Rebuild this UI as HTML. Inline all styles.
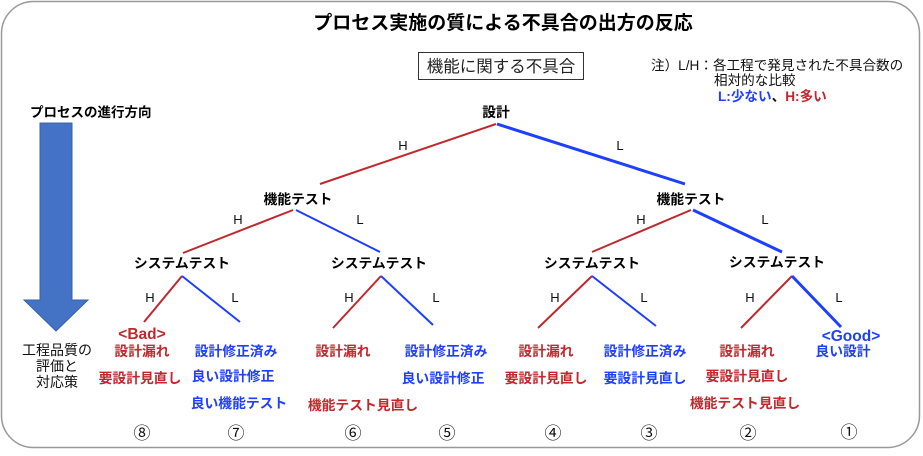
<!DOCTYPE html>
<html><head><meta charset="utf-8"><style>
html,body{margin:0;padding:0;background:#fff;}
svg{display:block;}
text{font-family:"Liberation Sans","Noto Sans CJK JP",sans-serif;}
.b{font-weight:bold;}
.r{fill:#c0282d;font-weight:bold;font-size:13.8px;}
.u{fill:#1f3fff;font-weight:bold;font-size:13.8px;}
.hl{font-size:13px;fill:#111;}
.n{font-weight:bold;font-size:13.8px;}
</style></head><body>
<svg width="923" height="456" viewBox="0 0 923 456">
<rect x="1.5" y="1.5" width="918" height="446" rx="32" fill="#fff" stroke="#999" stroke-width="1.5"/>
<text x="503" y="29" text-anchor="middle" class="b" font-size="19">プロセス実施の質による不具合の出方の反応</text>
<rect x="418.5" y="52.5" width="165" height="27" fill="#fff" stroke="#333" stroke-width="1"/>
<text x="501" y="72" text-anchor="middle" font-size="16.5" fill="#222">機能に関する不具合</text>
<text x="651" y="70" font-size="13.6" fill="#111">注）L/H：各工程で発見された不具合数の</text>
<text x="714" y="85" font-size="13.6" fill="#111">相対的な比較</text>
<text x="718" y="101" font-size="13.6" class="b"><tspan fill="#1f3fff">L:少ない</tspan><tspan fill="#111">、</tspan><tspan fill="#c0282d">H:多い</tspan></text>
<text x="30" y="117" class="b" font-size="13.5">プロセスの進行方向</text>
<polygon points="40,123 72,123 72,300 88,300 56,331 24,300 40,300" fill="#4472c4" stroke="#3a63ad" stroke-width="1"/>
<text x="57" y="355" text-anchor="middle" font-size="14" fill="#111">工程品質の</text>
<text x="57" y="371" text-anchor="middle" font-size="14" fill="#111">評価と</text>
<text x="57" y="387" text-anchor="middle" font-size="14" fill="#111">対応策</text>
<text x="496" y="117" text-anchor="middle" class="n">設計</text>
<g stroke-linecap="butt" fill="none">
<line x1="496" y1="124" x2="320" y2="184" stroke="#c0282d" stroke-width="2"/>
<line x1="497" y1="124" x2="685" y2="184" stroke="#1f3fff" stroke-width="3"/>
<line x1="293" y1="210" x2="183" y2="253" stroke="#c0282d" stroke-width="2"/>
<line x1="296" y1="210" x2="380" y2="252" stroke="#1f3fff" stroke-width="2"/>
<line x1="691" y1="210" x2="592" y2="252" stroke="#c0282d" stroke-width="2"/>
<line x1="693" y1="210" x2="782" y2="252" stroke="#1f3fff" stroke-width="3"/>
<line x1="182" y1="276" x2="144" y2="322" stroke="#c0282d" stroke-width="2"/>
<line x1="182" y1="276" x2="240" y2="322" stroke="#1f3fff" stroke-width="2"/>
<line x1="381" y1="276" x2="333" y2="328" stroke="#c0282d" stroke-width="2"/>
<line x1="381" y1="276" x2="433" y2="325" stroke="#1f3fff" stroke-width="2"/>
<line x1="592" y1="276" x2="538" y2="328" stroke="#c0282d" stroke-width="2"/>
<line x1="592" y1="276" x2="656" y2="326" stroke="#1f3fff" stroke-width="2"/>
<line x1="792" y1="276" x2="741" y2="328" stroke="#c0282d" stroke-width="2"/>
<line x1="792" y1="276" x2="841" y2="327" stroke="#1f3fff" stroke-width="3"/>
</g>
<text x="403" y="150" text-anchor="middle" class="hl">H</text>
<text x="620" y="150" text-anchor="middle" class="hl">L</text>
<text x="298" y="204" text-anchor="middle" class="n">機能テスト</text>
<text x="691" y="204" text-anchor="middle" class="n">機能テスト</text>
<text x="238" y="224" text-anchor="middle" class="hl">H</text>
<text x="360" y="224" text-anchor="middle" class="hl">L</text>
<text x="641" y="224" text-anchor="middle" class="hl">H</text>
<text x="765" y="224" text-anchor="middle" class="hl">L</text>
<text x="182" y="268" text-anchor="middle" class="n">システムテスト</text>
<text x="379" y="268" text-anchor="middle" class="n">システムテスト</text>
<text x="592" y="268" text-anchor="middle" class="n">システムテスト</text>
<text x="777" y="267" text-anchor="middle" class="n">システムテスト</text>
<text x="150" y="302" text-anchor="middle" class="hl">H</text>
<text x="235" y="302" text-anchor="middle" class="hl">L</text>
<text x="349" y="302" text-anchor="middle" class="hl">H</text>
<text x="436" y="302" text-anchor="middle" class="hl">L</text>
<text x="555" y="302" text-anchor="middle" class="hl">H</text>
<text x="644" y="302" text-anchor="middle" class="hl">L</text>
<text x="750" y="302" text-anchor="middle" class="hl">H</text>
<text x="839" y="302" text-anchor="middle" class="hl">L</text>
<g text-anchor="middle">
<text x="142" y="339" class="r" style="font-size:15.5px">&lt;Bad&gt;</text>
<text x="142" y="356" class="r">設計漏れ</text>
<text x="140" y="383" class="r">要設計見直し</text>
<text x="236" y="356" class="u">設計修正済み</text>
<text x="233" y="381" class="u">良い設計修正</text>
<text x="239" y="408" class="u">良い機能テスト</text>
<text x="343" y="356" class="r">設計漏れ</text>
<text x="363" y="410" class="r">機能テスト見直し</text>
<text x="446" y="356" class="u">設計修正済み</text>
<text x="443" y="383" class="u">良い設計修正</text>
<text x="546" y="356" class="r">設計漏れ</text>
<text x="546" y="383" class="r">要設計見直し</text>
<text x="645" y="356" class="u">設計修正済み</text>
<text x="645" y="383" class="u">要設計見直し</text>
<text x="747" y="356" class="r">設計漏れ</text>
<text x="747" y="381" class="r">要設計見直し</text>
<text x="745" y="408" class="r">機能テスト見直し</text>
<text x="851" y="341" class="u" style="font-size:15.5px">&lt;Good&gt;</text>
<text x="843" y="356" class="u">良い設計</text>
<g font-size="17" fill="#111">
<text x="142" y="439">⑧</text>
<text x="236" y="439">⑦</text>
<text x="353" y="439">⑥</text>
<text x="447" y="439">⑤</text>
<text x="553" y="439">④</text>
<text x="649" y="439">③</text>
<text x="748" y="439">②</text>
<text x="849" y="438">①</text>
</g>
</g>
</svg>
</body></html>
